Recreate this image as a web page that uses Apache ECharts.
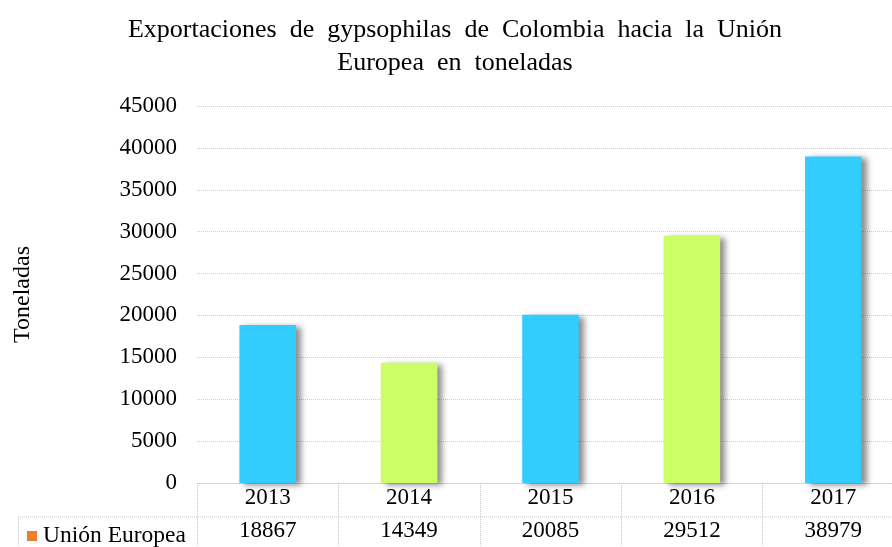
<!DOCTYPE html>
<html>
<head>
<meta charset="utf-8">
<script src="https://cdn.jsdelivr.net/npm/echarts@6/dist/echarts.min.js"></script>
<style>
  html, body { margin: 0; padding: 0; background: #fff; }
  #chart { width: 892px; height: 547px; }
</style>
</head>
<body>
<div id="chart"></div>
<script>
// Exports of gypsophila from Colombia to the European Union (tonnes)
const years = ['2013', '2014', '2015', '2016', '2017'];
const tonnes = [18867, 14349, 20085, 29512, 38979];
const barColors = ['#33CCFF', '#CCFF66', '#33CCFF', '#CCFF66', '#33CCFF'];
const seriesName = 'Unión Europea';
const yTicks = { min: 0, max: 45000, interval: 5000 };

const serif = '"Liberation Serif", "Times New Roman", serif';
const chart = echarts.init(document.getElementById('chart'));

// plot area runs a little past the right edge of the canvas
const gridLeft = 197, gridTop = 106, gridBottom = 64, gridWidth = 707;

chart.setOption({
  animation: false,
  backgroundColor: '#ffffff',
  title: {
    text: 'Exportaciones  de  gypsophilas  de  Colombia  hacia  la  Unión\nEuropea  en  toneladas',
    left: 450,
    textAlign: 'center',
    top: 9,
    textStyle: { fontFamily: serif, fontSize: 26, fontWeight: 'normal', color: '#000', lineHeight: 33 }
  },
  legend: {
    left: 22, top: 519,
    itemWidth: 10, itemHeight: 10, itemGap: 4,
    icon: 'rect',
    selectedMode: false,
    textStyle: { fontFamily: serif, fontSize: 23.5, color: '#000', padding: [0, 0, 0, 1] },
    data: [{ name: seriesName, itemStyle: { color: '#ED7D31' } }]
  },
  grid: { left: gridLeft, width: gridWidth, top: gridTop, bottom: gridBottom,
    containLabel: false, outerBoundsMode: 'none' },
  xAxis: [
    {
      type: 'category',
      data: years,
      boundaryGap: true,
      axisLine: { show: true, lineStyle: { color: '#C8C8C8', type: 'dotted', width: 1 } },
      axisTick: { show: true, length: 64, lineStyle: { color: '#C8C8C8', type: 'dotted' } },
      axisLabel: { margin: 3, fontFamily: serif, fontSize: 23, color: '#000' }
    },
    {
      type: 'category',
      position: 'bottom',
      offset: 33,
      data: tonnes.map(String),
      axisLine: { show: false },
      axisTick: { show: false },
      axisLabel: { margin: 3, fontFamily: serif, fontSize: 23, color: '#000' }
    }
  ],
  yAxis: {
    type: 'value',
    min: yTicks.min, max: yTicks.max, interval: yTicks.interval,
    name: 'Toneladas',
    nameLocation: 'middle',
    nameRotate: 90,
    nameGap: 162,
    nameTextStyle: { fontFamily: serif, fontSize: 24, color: '#000' },
    axisLine: { show: false },
    axisTick: { show: false },
    axisLabel: { margin: 20, fontFamily: serif, fontSize: 23, color: '#000',
      formatter: v => String(v) },
    splitLine: { lineStyle: { color: '#CFCFCF', type: 'dotted', width: 1 } }
  },
  series: [{
    name: seriesName,
    type: 'bar',
    barWidth: '40%',
    data: tonnes.map((v, i) => ({
      value: v,
      itemStyle: { color: barColors[i] }
    })),
    itemStyle: {
      shadowColor: 'rgba(0,0,0,0.45)',
      shadowBlur: 6,
      shadowOffsetX: 5,
      shadowOffsetY: 2
    }
  }],
  graphic: [
    // data-table row separator and left border of the series-name cell
    { type: 'line', shape: { x1: 18, y1: 517, x2: 892, y2: 517 },
      style: { stroke: '#C8C8C8', lineWidth: 1, lineDash: [1, 1] }, silent: true },
    { type: 'line', shape: { x1: 18.5, y1: 517, x2: 18.5, y2: 547 },
      style: { stroke: '#C8C8C8', lineWidth: 1, lineDash: [1, 1] }, silent: true }
  ]
});
</script>
</body>
</html>
